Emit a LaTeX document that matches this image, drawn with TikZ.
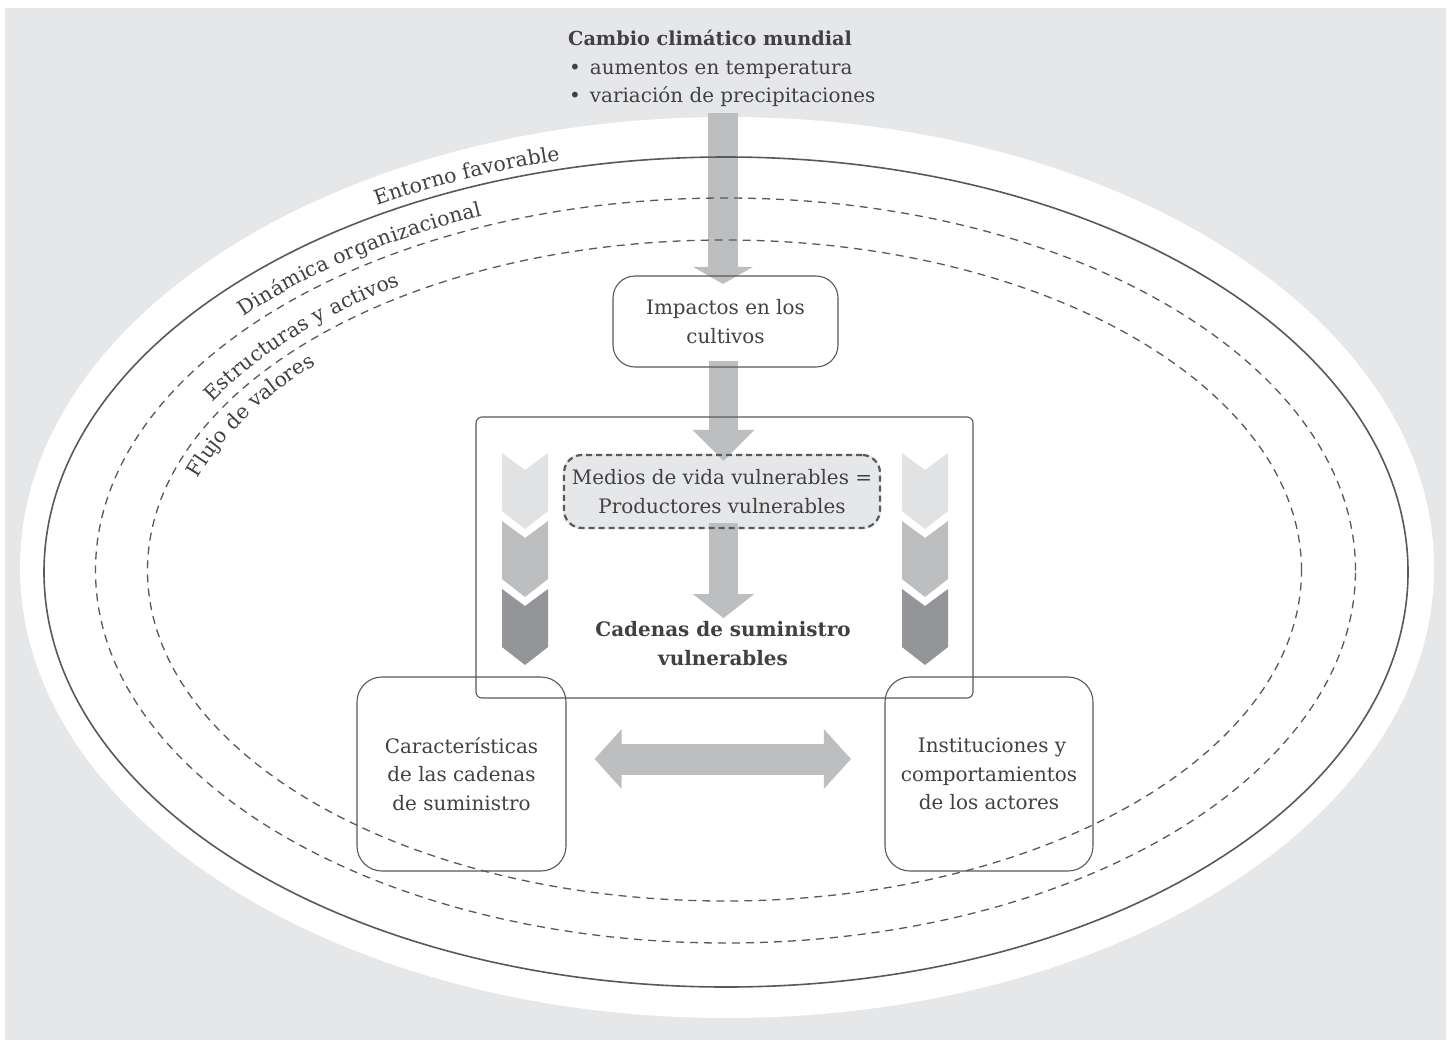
\documentclass[tikz,border=0pt]{standalone}
\usepackage{fontspec}
\setmainfont{DejaVu Serif}
\usetikzlibrary{arrows.meta,decorations.text}
\definecolor{bggray}{HTML}{E6E7E8}
\definecolor{linec}{HTML}{58595B}
\definecolor{txtc}{HTML}{414042}
\definecolor{arrc}{HTML}{BCBEC0}
\definecolor{chA}{HTML}{E1E2E3}
\definecolor{chB}{HTML}{BCBEC0}
\definecolor{chC}{HTML}{939598}
\pgfdeclarelayer{bglayer}
\pgfdeclarelayer{arrowlayer}
\pgfsetlayers{bglayer,arrowlayer,main}
\newcommand\bodyfont{\fontsize{20}{28.5}\selectfont}
\newcommand\labfont{\fontsize{20.5}{24}\selectfont}
\tikzset{
  txt/.style={text=txtc, font=\bodyfont, inner sep=0pt},
  roundbox/.style={draw=linec, line width=1.1bp, rounded corners=22bp, align=center,
    text=txtc, font=\bodyfont, inner sep=0pt},
  framebox/.style={draw=linec, line width=1.1bp, rounded corners=6bp, inner sep=0pt},
  medbox/.style={draw=linec, line width=2.2bp, dash pattern=on 6bp off 4bp,
    rounded corners=18bp, align=center, text=txtc, font=\bodyfont, inner sep=0pt},
  ring/.style={draw=linec, line width=1.6bp},
  dashring/.style={draw=linec, line width=1.3bp, dash pattern=on 8bp off 6bp},
  curvelab/.style={decorate, decoration={text along path, text color=txtc, raise=#1}},
}
\begin{document}
\begin{tikzpicture}[x=1bp,y=1bp]
\useasboundingbox (0,0) rectangle (1451,-1040);
\begin{pgfonlayer}{bglayer}
  \fill[bggray] (5,-8) rectangle (1446,-1040);
  \fill[white] (727,-567.5) ellipse [x radius=707, y radius=450.5];
\end{pgfonlayer}

% rings
\path[ring] (726,-572) ellipse [x radius=682, y radius=415];
\path[dashring] (725.5,-570.5) ellipse [x radius=630, y radius=372.5];
\path[dashring] (724.5,-570.5) ellipse [x radius=577, y radius=330.5];

% curved labels
\path[curvelab=9bp, decoration={text={|\labfont|Entorno favorable}}]
  (726,-572) ++(120.5:682 and 415) arc[start angle=120.5, end angle=90, x radius=682, y radius=415];
\path[curvelab=11bp, decoration={text={|\labfont|Dinámica organizacional}}]
  (725.5,-570.5) ++(139:630 and 372.5) arc[start angle=139, end angle=95, x radius=630, y radius=372.5];
\path[curvelab=11bp, decoration={text={|\labfont|Estructuras y activos}}]
  (724.5,-570.5) ++(151:577 and 330.5) arc[start angle=151, end angle=105, x radius=577, y radius=330.5];
\path[curvelab=0bp, decoration={text={|\labfont|Flujo de valores}}]
  (724.5,-570.5) ++(162.5:552 and 306) arc[start angle=162.5, end angle=120, x radius=552, y radius=306];

% top text
\node[txt, anchor=base west, font=\fontsize{19.3}{28.5}\selectfont\bfseries] (title) at (568,-45) {Cambio climático mundial};
\node[txt, anchor=base west] (bul1) at (569,-74) {•\hspace{9bp}aumentos en temperatura};
\node[txt, anchor=base west] (bul2) at (569,-102) {•\hspace{9bp}variación de precipitaciones};
\coordinate (climate) at (723,-113);

% boxes
\node[roundbox, minimum width=225bp, minimum height=91bp] (imp) at (725.5,-321.5) {Impactos en los\\cultivos};
\node[framebox, minimum width=497bp, minimum height=281bp] (frame) at (724.5,-557.5) {};
\node[medbox, minimum width=316bp, minimum height=73bp] (med) at (722,-491.5) {Medios de vida vulnerables =\\Productores vulnerables};
\node[txt, align=center, font=\bodyfont\bfseries] (cad) at (723,-643.4) {Cadenas de suministro\\vulnerables};
\node[roundbox, rounded corners=25bp, minimum width=209bp, minimum height=194bp] (left) at (461.5,-774) {Características\\de las cadenas\\de suministro};
\node[roundbox, rounded corners=25bp, minimum width=208bp, minimum height=194bp] (right) at (989,-774) {\hspace*{6bp}Instituciones y\\comportamientos\\de los actores};

\begin{pgfonlayer}{bglayer}
  \fill[bggray, rounded corners=18bp] (med.south west) rectangle (med.north east);
\end{pgfonlayer}

% arrows
\begin{pgfonlayer}{arrowlayer}
  \draw[arrc, line width=30bp, -{Triangle[length=17bp, width=59bp]}] (climate) -- ([shift={(-2.5,-8.5)}]imp.north);
  \draw[arrc, line width=29bp, -{Triangle[length=31bp, width=60bp]}] ([shift={(-2,7)}]imp.south) -- ([shift={(1.5,-7)}]med.north);
  \draw[arrc, line width=29bp, -{Triangle[length=24bp, width=60bp]}] ([shift={(1.5,6)}]med.south) -- ([shift={(1.5,-89)}]med.south);
  \draw[arrc, line width=31bp, {Triangle[length=27bp, width=58bp]}-{Triangle[length=27bp, width=58bp]}] ([shift={(28,15)}]left.east) -- ([shift={(-33.5,15)}]right.west);
\end{pgfonlayer}

% chevrons
\begin{pgfonlayer}{arrowlayer}
\foreach \cx in {525,925} {
  \foreach \yy/\col in {453/chA,521/chB,589/chC} {
    \fill[\col] (\cx-23,-\yy) -- (\cx,-\yy-17) -- (\cx+23,-\yy) -- (\cx+23,-\yy-58)
      -- (\cx,-\yy-76) -- (\cx-23,-\yy-58) -- cycle;
  }
}
\end{pgfonlayer}
\end{tikzpicture}
\end{document}
